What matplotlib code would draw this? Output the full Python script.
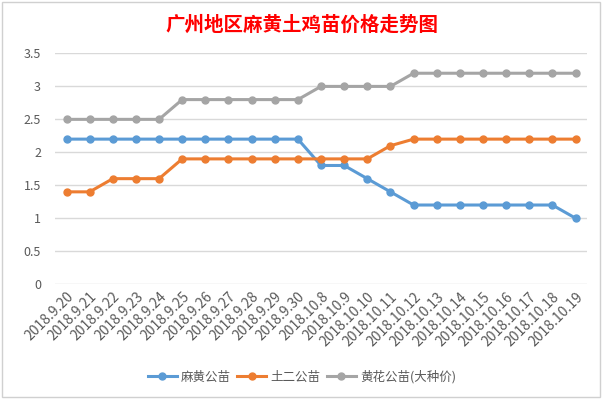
import matplotlib
matplotlib.use("Agg")
import matplotlib.pyplot as plt
from matplotlib.patches import Rectangle

plt.rcParams['font.family'] = ['Noto Sans CJK SC', 'DejaVu Sans']

dates = ["2018.9.20", "2018.9.21", "2018.9.22", "2018.9.23", "2018.9.24",
         "2018.9.25", "2018.9.26", "2018.9.27", "2018.9.28", "2018.9.29",
         "2018.9.30", "2018.10.8", "2018.10.9", "2018.10.10", "2018.10.11",
         "2018.10.12", "2018.10.13", "2018.10.14", "2018.10.15", "2018.10.16",
         "2018.10.17", "2018.10.18", "2018.10.19"]
mahuang = [2.2, 2.2, 2.2, 2.2, 2.2, 2.2, 2.2, 2.2, 2.2, 2.2, 2.2,
           1.8, 1.8, 1.6, 1.4, 1.2, 1.2, 1.2, 1.2, 1.2, 1.2, 1.2, 1.0]
tuer = [1.4, 1.4, 1.6, 1.6, 1.6, 1.9, 1.9, 1.9, 1.9, 1.9, 1.9,
        1.9, 1.9, 1.9, 2.1, 2.2, 2.2, 2.2, 2.2, 2.2, 2.2, 2.2, 2.2]
huanghua = [2.5, 2.5, 2.5, 2.5, 2.5, 2.8, 2.8, 2.8, 2.8, 2.8, 2.8,
            3.0, 3.0, 3.0, 3.0, 3.2, 3.2, 3.2, 3.2, 3.2, 3.2, 3.2, 3.2]
series = [("麻黄公苗", mahuang, "#5B9BD5"),
          ("土二公苗", tuer, "#ED7D31"),
          ("黄花公苗(大种价)", huanghua, "#A5A5A5")]
yticks = [0, 0.5, 1, 1.5, 2, 2.5, 3, 3.5]

fig = plt.figure(figsize=(6.04, 3.99), dpi=100)
ax = fig.add_axes([0.091, 0.288, 0.881, 0.578])

xs = list(range(len(dates)))
for name, vals, color in series:
    ax.plot(xs, vals, color=color, lw=2.2, marker="o", ms=5, label=name)

ax.set_xlim(-0.5, len(dates) - 0.5)
ax.set_ylim(0, 3.5)
ax.set_yticks(yticks)
ax.set_yticklabels([f"{v:g}" for v in yticks])
ax.yaxis.grid(True, color="#D9D9D9", lw=1)
ax.set_axisbelow(True)
ax.set_xticks(xs)
ax.set_xticklabels(dates, rotation=45, ha="right", va="top", rotation_mode="anchor")
ax.tick_params(axis="both", length=0, colors="#595959")
ax.tick_params(axis="y", pad=10, labelsize=9)
ax.tick_params(axis="x", pad=4, labelsize=10)
for side in ["top", "right", "left", "bottom"]:
    ax.spines[side].set_visible(False)

fig.text(0.5, 0.937, "广州地区麻黄土鸡苗价格走势图", color="red",
         fontsize=14, fontweight="bold", ha="center", va="center")

ax.legend(loc="center", bbox_to_anchor=(0.5, 0.055), bbox_transform=fig.transFigure,
          ncol=3, frameon=False, fontsize=9, handlelength=2.3,
          columnspacing=0.5, handletextpad=0.35, labelcolor="#595959")

fig.patches.append(Rectangle((0.004, 0.006), 0.99, 0.988, transform=fig.transFigure,
                             fill=False, edgecolor="#D0D0D0", lw=1))

fig.savefig("out.png", dpi=100)
